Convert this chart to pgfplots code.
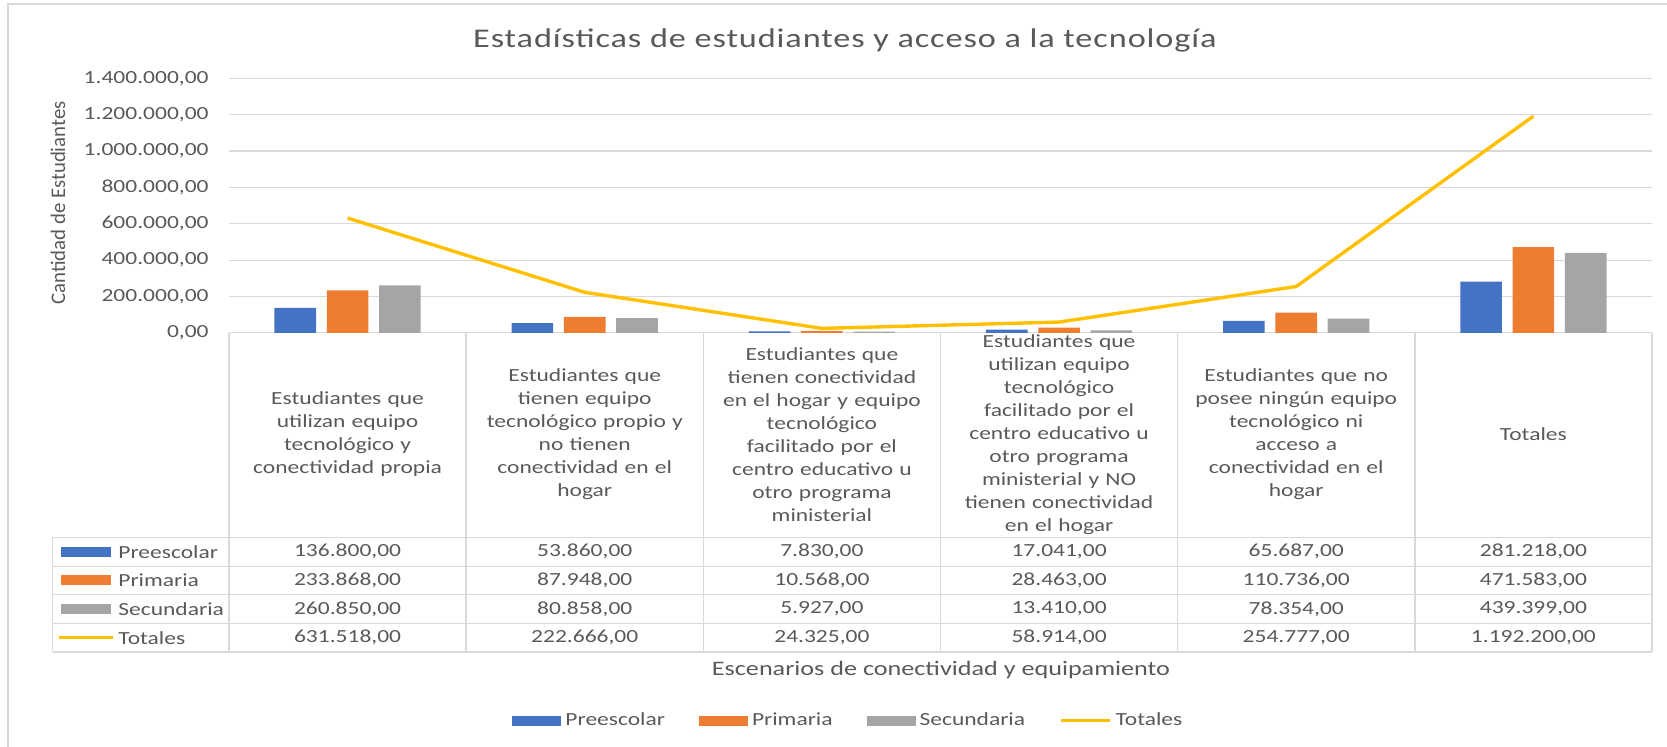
\documentclass[border=0pt]{standalone}
\usepackage{pgfplots}
\pgfplotsset{compat=1.18}
\usepackage{pgfplotstable}
\usepackage{fontspec}
\setmainfont[FakeStretch=1.27]{Carlito}
\newfontfamily\titlefont[FakeStretch=1.27,LetterSpace=3.3]{Carlito}
\newfontfamily\plainfont{Carlito}
\definecolor{cblue}{HTML}{4472C4}
\definecolor{corange}{HTML}{ED7D31}
\definecolor{cgray}{HTML}{A5A5A5}
\definecolor{cyellow}{HTML}{FFC000}
\definecolor{ctext}{HTML}{595959}
\definecolor{cgrid}{HTML}{D9D9D9}
\pgfkeys{/pgf/number format/.cd, fixed, fixed zerofill, precision=2, 1000 sep={.}, dec sep={,}, assume math mode=true}

\pgfplotstableread{
x pre pri sec tot
0 136800 233868 260850 631518
1 53860 87948 80858 222666
2 7830 10568 5927 24325
3 17041 28463 13410 58914
4 65687 110736 78354 254777
5 281218 471583 439399 1192200
}\datatable

\newcommand{\tabfont}{\fontsize{9.25}{11.5}\selectfont}

\begin{document}
\begin{tikzpicture}
\path[use as bounding box] (0,0) rectangle (833.5pt,-373.5pt);
\draw[cgrid, line width=1pt] (4pt,-373.5pt) -- (4pt,-2pt) -- (833.5pt,-2pt);
\begin{axis}[
  at={(114.5pt,-166.4pt)}, anchor=south west,
  scale only axis, width=711.5pt, height=127.2pt,
  xmin=-0.5, xmax=5.5, ymin=0, ymax=1400000,
  axis line style={draw=none},
  ymajorgrids, grid style={cgrid, line width=0.6pt},
  major tick length=0pt,
  ytick={0,200000,400000,600000,800000,1000000,1200000,1400000},
  scaled y ticks=false,
  yticklabel={\pgfmathprintnumber{\tick}},
  yticklabel style={font=\tabfont, text=ctext, anchor=east, inner sep=0pt, xshift=-10pt},
  xtick={0,1,2,3,4,5},
  xticklabels={
    {Estudiantes que\\utilizan equipo\\tecnológico y\\conectividad propia},
    {Estudiantes que\\tienen equipo\\tecnológico propio y\\no tienen\\conectividad en el\\hogar},
    {Estudiantes que\\tienen conectividad\\en el hogar y equipo\\tecnológico\\facilitado por el\\centro educativo u\\otro programa\\ministerial},
    {Estudiantes que\\utilizan equipo\\tecnológico\\facilitado por el\\centro educativo u\\otro programa\\ministerial y NO\\tienen conectividad\\en el hogar},
    {Estudiantes que no\\posee ningún equipo\\tecnológico ni\\acceso a\\conectividad en el\\hogar},
    {Totales}},
  xticklabel style={anchor=center, yshift=-50.85pt, align=center, text width=114pt, font=\tabfont, text=ctext, inner sep=0pt},
  legend style={at={(0.436,-1.525)}, anchor=center, draw=none, fill=none, legend columns=4,
    font=\tabfont, text=ctext, /tikz/every even column/.append style={column sep=15pt}},
  legend cell align=left,
]
\addplot[ybar, bar width=20.8pt, bar shift=-26.15pt, fill=cblue, draw=none,
  legend image code/.code={\fill[cblue] (0pt,-2.5pt) rectangle (24.5pt,2.5pt);}]
  table[x=x,y=pre]{\datatable};
\addlegendentry{Preescolar}
\addplot[ybar, bar width=20.8pt, bar shift=0pt, fill=corange, draw=none,
  legend image code/.code={\fill[corange] (0pt,-2.5pt) rectangle (24.5pt,2.5pt);}]
  table[x=x,y=pri]{\datatable};
\addlegendentry{Primaria}
\addplot[ybar, bar width=20.8pt, bar shift=26.15pt, fill=cgray, draw=none,
  legend image code/.code={\fill[cgray] (0pt,-2.5pt) rectangle (24.5pt,2.5pt);}]
  table[x=x,y=sec]{\datatable};
\addlegendentry{Secundaria}
\addplot[cyellow, line width=1.7pt, line join=round,
  legend image code/.code={\draw[cyellow, line width=1.7pt] (0pt,0pt) -- (24.5pt,0pt);}]
  table[x=x,y=tot]{\datatable};
\addlegendentry{Totales}
\end{axis}

% data table grid
\begin{scope}[cgrid, line width=0.75pt]
  \foreach \k in {0,...,6} \draw (114.5pt+\k*118.583pt,-166.4pt) -- (114.5pt+\k*118.583pt,-326pt);
  \draw (26.35pt,-268.65pt) -- (26.35pt,-326pt);
  \foreach \yy in {-268.65,-283.15,-297.35,-311.65,-326} \draw (26.35pt,\yy pt) -- (826pt,\yy pt);
\end{scope}
\foreach \lab/\col/\yy in {Preescolar/cblue/-275.9, Primaria/corange/-290.25, Secundaria/cgray/-304.5} {
  \fill[\col] (30.5pt,\yy pt-2.5pt) rectangle (55.5pt,\yy pt+2.5pt);
  \node[anchor=west, inner sep=0pt, text=ctext, font=\tabfont] at (59pt,\yy pt) {\lab};
}
\draw[cyellow, line width=1.7pt] (29.5pt,-318.85pt) -- (56.5pt,-318.85pt);
\node[anchor=west, inner sep=0pt, text=ctext, font=\tabfont] at (59pt,-318.85pt) {Totales};
\foreach \r in {0,...,5} {
  \foreach \c/\yy in {pre/-275.9,pri/-290.25,sec/-304.5,tot/-318.85} {
    \pgfplotstablegetelem{\r}{\c}\of\datatable
    \node[text=ctext, font=\tabfont, inner sep=0pt] at (173.79pt+\r*118.583pt,\yy pt) {\pgfmathprintnumber{\pgfplotsretval}};
  }
}
% titles
\node[text=ctext, font=\titlefont\fontsize{13.5}{16}\selectfont] at (422.5pt,-20pt) {Estadísticas de estudiantes y acceso a la tecnología};
\node[text=ctext, font=\fontsize{10.3}{12}\selectfont] at (470.5pt,-335pt) {Escenarios de conectividad y equipamiento};
\node[rotate=90, text=ctext, font=\plainfont\fontsize{10.4}{12}\selectfont] at (29pt,-101.5pt) {Cantidad de Estudiantes};
\end{tikzpicture}
\end{document}
